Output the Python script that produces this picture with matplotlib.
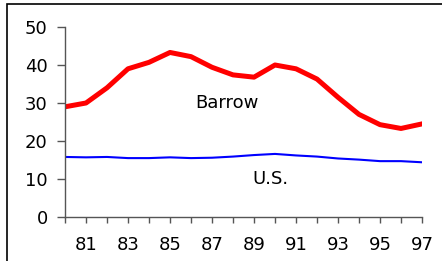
import matplotlib.pyplot as plt
from matplotlib.patches import Rectangle

# years 1980-1997
years = list(range(80, 98))
barrow = [29.0, 30.0, 34.0, 39.0, 40.7, 43.3, 42.2, 39.4, 37.4, 36.8,
          40.0, 39.0, 36.3, 31.5, 27.0, 24.3, 23.3, 24.5]
us = [15.8, 15.7, 15.8, 15.5, 15.5, 15.7, 15.5, 15.6, 15.9, 16.3,
      16.6, 16.2, 15.9, 15.4, 15.1, 14.7, 14.7, 14.4]

plt.rcParams['font.family'] = ['DejaVu Sans']

fig = plt.figure(figsize=(4.42, 2.61), dpi=100)
# outer frame (left + top edges visible)
fig.patches.append(Rectangle((7 / 442, -0.1), 1.2, 1 - 4 / 261 + 0.1,
                             transform=fig.transFigure, fill=False,
                             edgecolor='black', linewidth=1.2))

ax = fig.add_axes([65 / 442, 1 - 217 / 261, (422 - 65) / 442, (217 - 27) / 261])
ax.plot(years, barrow, color='#ff0000', linewidth=3.6, solid_joinstyle='round')
ax.plot(years, us, color='#0000ff', linewidth=1.5)

ax.set_xlim(80, 97)
ax.set_ylim(0, 50)
ax.set_yticks(range(0, 51, 10))
ax.set_xticks(years)
ax.set_xticklabels(['' if (y % 2 == 0) else str(y) for y in years])
ax.tick_params(axis='both', color='#555555', width=1,
               labelsize=13, labelcolor='black', direction='out')
ax.tick_params(axis='x', length=4.5, pad=9)
ax.tick_params(axis='y', length=5.5, pad=7)

for s in ['top', 'right']:
    ax.spines[s].set_visible(False)
for s in ['left', 'bottom']:
    ax.spines[s].set_color('#555555')
    ax.spines[s].set_linewidth(1)

ax.text(87.7, 30.0, 'Barrow', fontsize=13, ha='center', va='center')
ax.text(89.8, 10.1, 'U.S.', fontsize=13, ha='center', va='center')

fig.savefig('out.png', dpi=100)
